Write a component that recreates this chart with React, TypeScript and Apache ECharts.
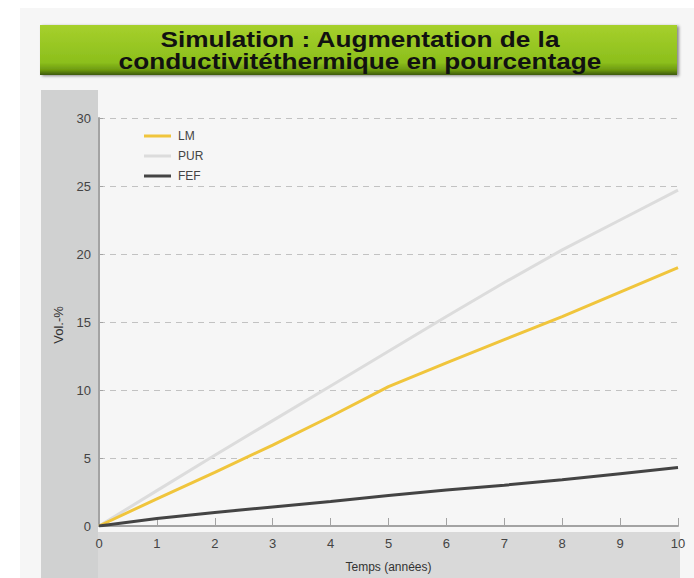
import React, { useEffect, useRef } from "react";
import * as echarts from "echarts";

const years = [0, 1, 2, 3, 4, 5, 6, 7, 8, 9, 10];
const lmValues = [0, 2.0, 3.95, 5.95, 8.05, 10.25, 12.0, 13.7, 15.4, 17.2, 19.0];
const purValues = [0, 2.6, 5.2, 7.75, 10.3, 12.85, 15.4, 17.9, 20.3, 22.5, 24.7];
const fefValues = [0, 0.55, 1.0, 1.4, 1.8, 2.25, 2.65, 3.0, 3.4, 3.85, 4.3];
const seriesNames = ["LM", "PUR", "FEF"];
const titleLines = ["Simulation : Augmentation de la", "conductivitéthermique en pourcentage"];
const xAxisName = "Temps (années)";
const yAxisName = "Vol.-%";

const FONT = "'Liberation Sans', Arial, Helvetica, sans-serif";

export default function App() {
  const ref = useRef<HTMLDivElement>(null);
  useEffect(() => {
    if (!ref.current) return;
    const chart = echarts.init(ref.current, null, { renderer: "svg" });
    const pair = (vals: number[]) => years.map((x, i) => [x, vals[i]]);
    chart.setOption({
      animation: false,
      backgroundColor: "#ffffff",
      textStyle: { fontFamily: FONT },
      graphic: [
        { type: "rect", z: -10, shape: { x: 20, y: 8, width: 674, height: 570 }, style: { fill: "#f6f6f6" }, silent: true },
        { type: "rect", z: -9, shape: { x: 41, y: 90, width: 57, height: 488 }, style: { fill: "#d0d1d1" }, silent: true },
        { type: "rect", z: -9, shape: { x: 98, y: 532, width: 582, height: 46 }, style: { fill: "#d9d9d9" }, silent: true },
        {
          type: "rect",
          z: -8,
          shape: { x: 40, y: 25, width: 637, height: 50 },
          style: {
            fill: new echarts.graphic.LinearGradient(0, 0, 0, 1, [
              { offset: 0, color: "#a6d02c" },
              { offset: 0.75, color: "#8cbf1c" },
              { offset: 0.9, color: "#6d9a10" },
              { offset: 1, color: "#3e5806" },
            ]),
            shadowColor: "rgba(0,0,0,0.45)",
            shadowBlur: 3,
            shadowOffsetX: 2,
            shadowOffsetY: 1,
          },
          silent: true,
        },
        {
          type: "text",
          z: 10,
          x: 360,
          y: 50,
          scaleX: 1.19,
          style: {
            text: titleLines.join("\n"),
            fill: "#111111",
            font: `bold 22px ${FONT}`,
            lineHeight: 22,
            align: "center",
            verticalAlign: "middle",
          },
          silent: true,
        },
        {
          type: "text",
          z: 10,
          x: 58,
          y: 325,
          rotation: Math.PI / 2,
          style: {
            text: yAxisName,
            fill: "#333333",
            font: `13px ${FONT}`,
            align: "center",
            verticalAlign: "middle",
          },
          silent: true,
        },
      ],
      legend: {
        orient: "vertical",
        left: 139,
        top: 125,
        icon: "rect",
        itemWidth: 27,
        itemHeight: 3,
        itemGap: 8,
        data: seriesNames,
        textStyle: { color: "#444444", fontSize: 12, fontFamily: FONT, padding: [0, 0, 0, 2] },
      },
      grid: { left: 99, right: 16, top: 118, bottom: 46, containLabel: false },
      xAxis: {
        type: "value",
        min: 0,
        max: 10,
        interval: 1,
        name: xAxisName,
        nameLocation: "middle",
        nameGap: 35,
        nameTextStyle: { color: "#333333", fontSize: 12, fontFamily: FONT },
        axisLine: { lineStyle: { color: "#a3a3a3", width: 2 } },
        axisTick: { show: true, inside: true, length: 8, lineStyle: { color: "#a3a3a3", width: 1 } },
        axisLabel: { color: "#444444", fontSize: 13, margin: 11, fontFamily: FONT },
        splitLine: { show: false },
      },
      yAxis: {
        type: "value",
        min: 0,
        max: 30,
        interval: 5,
        axisLine: { show: true, lineStyle: { color: "#a3a3a3", width: 2 } },
        axisTick: { show: true, inside: true, length: 4, lineStyle: { color: "#a3a3a3", width: 1 } },
        axisLabel: { color: "#444444", fontSize: 13, margin: 8, fontFamily: FONT },
        splitLine: { show: true, lineStyle: { color: "#c2c2c2", width: 1, type: [6, 5] } },
      },
      series: [
        {
          name: seriesNames[0],
          type: "line",
          data: pair(lmValues),
          symbol: "none",
          showSymbol: false,
          lineStyle: { color: "#f0c53c", width: 3 },
          itemStyle: { color: "#f0c53c" },
          z: 3,
        },
        {
          name: seriesNames[1],
          type: "line",
          data: pair(purValues),
          symbol: "none",
          showSymbol: false,
          lineStyle: { color: "#dcdcdc", width: 3 },
          itemStyle: { color: "#dcdcdc" },
          z: 2,
        },
        {
          name: seriesNames[2],
          type: "line",
          data: pair(fefValues),
          symbol: "none",
          showSymbol: false,
          lineStyle: { color: "#444444", width: 3 },
          itemStyle: { color: "#444444" },
          z: 4,
        },
      ],
    });
    return () => chart.dispose();
  }, []);
  return (
    <div
      ref={ref}
      style={{ position: "absolute", left: 0, top: 0, width: 694, height: 578 }}
    />
  );
}
